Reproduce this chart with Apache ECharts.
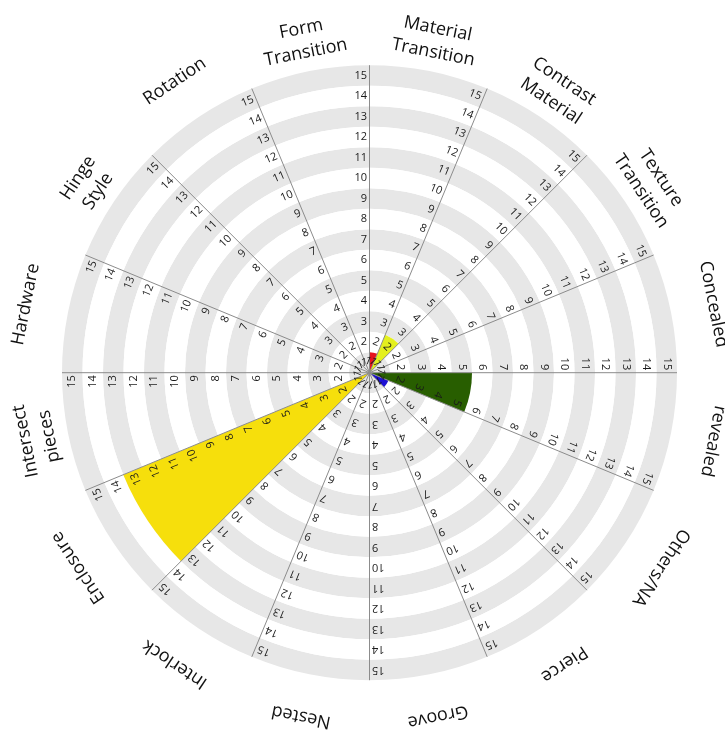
<!DOCTYPE html>
<html>
<head>
<meta charset="utf-8">
<script src="https://cdn.jsdelivr.net/npm/echarts@6/dist/echarts.min.js"></script>
<style>
html,body{margin:0;padding:0;background:#ffffff;}
#chart{width:725px;height:733px;}
</style>
</head>
<body>
<div id="chart"></div>
<script>
// ---- data ----
const categories = [
  'Material\nTransition', 'Contrast\nMaterial', 'Texture\nTransition', 'Concealed',
  'revealed', 'Others/NA', 'Pierce', 'Groove',
  'Nested', 'Interlock', 'Enclosure', 'Intersect\npieces',
  'Hardware', 'Hinge\nStyle', 'Rotation', 'Form\nTransition'
];
const values = [1, 2, 0, 0, 5, 1, 0, 0, 0, 0, 13, 0, 0, 0, 0, 0];
const tickLabels = [1, 2, 3, 4, 5, 6, 7, 8, 9, 10, 11, 12, 13, 14, 15];

// ---- styles ----
const sectorColors = [
  '#e6161e', '#e4f01e', '#cccccc', '#cccccc',
  '#285e00', '#1d10d4', '#cccccc', '#cccccc',
  '#cccccc', '#cccccc', '#f6df0c', '#cccccc',
  '#cccccc', '#cccccc', '#cccccc', '#cccccc'
];
const CENTER = [369.5, 372.7];
const RADIUS = 307.5;
const FONT = '"Open Sans", "Noto Sans", sans-serif';

const chart = echarts.init(document.getElementById('chart'), null, {renderer: 'canvas'});

const spokeData = [];
for (let k = 0; k < categories.length; k++) {
  for (const t of tickLabels) spokeData.push([t, k]);
}
const catLabelData = categories.map((c, k) => [15.5, k + 0.5]);

function geom(api, a) {
  const c = api.coord([0.5, a]);
  const q = api.coord([15.5, a]);
  const dx = q[0] - c[0], dy = q[1] - c[1];
  const L = Math.hypot(dx, dy);
  const ux = dx / L, uy = dy / L;
  const theta = Math.atan2(ux, -uy);
  return {c, L, ux, uy, theta};
}

const option = {
  backgroundColor: '#ffffff',
  animation: false,
  polar: [
    {center: CENTER, radius: RADIUS},
    {center: CENTER, radius: RADIUS}
  ],
  angleAxis: [
    {
      polarIndex: 0, type: 'category', data: categories,
      startAngle: 90, clockwise: true, boundaryGap: true,
      axisLine: {show: false}, axisTick: {show: false},
      axisLabel: {show: false}, splitLine: {show: false}, splitArea: {show: false}
    },
    {
      polarIndex: 1, type: 'value', min: 0, max: 16, interval: 1,
      startAngle: 90, clockwise: true, z: 5,
      axisLine: {show: false}, axisTick: {show: false}, axisLabel: {show: false},
      splitLine: {show: true, lineStyle: {color: '#8c8c8c', width: 1}},
      splitArea: {show: false}
    }
  ],
  radiusAxis: [
    {
      polarIndex: 0, type: 'value', min: 0, max: 15,
      axisLine: {show: false}, axisTick: {show: false}, axisLabel: {show: false},
      splitLine: {show: false}, splitArea: {show: false}
    },
    {
      polarIndex: 1, type: 'value', min: 0.5, max: 15.5, interval: 1, z: 0,
      axisLine: {show: false}, axisTick: {show: false}, axisLabel: {show: false},
      splitLine: {show: false},
      splitArea: {show: true, areaStyle: {color: ['#e7e7e7', '#ffffff']}}
    }
  ],
  series: [
    {
      type: 'bar', coordinateSystem: 'polar', polarIndex: 0,
      barCategoryGap: '0%', z: 2, silent: true,
      data: values.map((v, i) => ({value: v, itemStyle: {color: sectorColors[i]}}))
    },
    {
      type: 'custom', coordinateSystem: 'polar', polarIndex: 1, z: 10, silent: true,
      data: spokeData,
      renderItem: function (params, api) {
        const v = api.value(0), a = api.value(1);
        const g = geom(api, a);
        const p = api.coord([v, a]);
        const gap = 2.5;
        return {
          type: 'text',
          x: p[0] + g.uy * gap,
          y: p[1] - g.ux * gap,
          rotation: -g.theta,
          style: {
            text: String(v), align: 'right', verticalAlign: 'middle',
            fontSize: 11, fontFamily: FONT, fill: '#1a1a1a'
          }
        };
      }
    },
    {
      type: 'custom', coordinateSystem: 'polar', polarIndex: 1, z: 10, silent: true,
      data: catLabelData,
      renderItem: function (params, api) {
        const a = api.value(1);
        const g = geom(api, a);
        const r = g.L + 55;
        return {
          type: 'text',
          x: g.c[0] + g.ux * r,
          y: g.c[1] + g.uy * r,
          rotation: -g.theta,
          style: {
            text: categories[params.dataIndex], align: 'center', verticalAlign: 'top',
            fontSize: 18, lineHeight: 24, fontFamily: FONT, fill: '#111111'
          }
        };
      }
    }
  ]
};
chart.setOption(option);
</script>
</body>
</html>
